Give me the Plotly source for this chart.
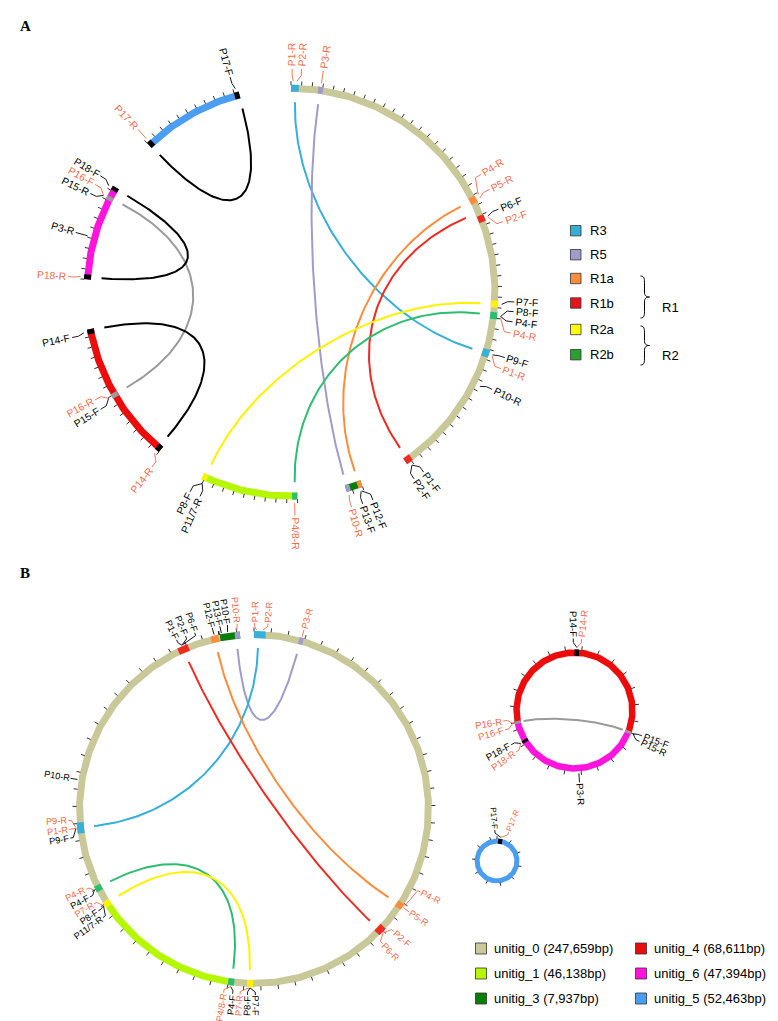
import numpy as np
import plotly.graph_objects as go

W, H = 778, 1021
FONT = "Liberation Sans"
O = "#f26b4c"   # reverse-primer label colour
K = "#000000"

# ---------------- colours ----------------
contig_colors = {"unitig_0": "#c8c899", "unitig_1": "#b5f700", "unitig_3": "#0a7e0a",
                 "unitig_4": "#ec0c0c", "unitig_6": "#ff14de", "unitig_5": "#4a9ef2"}
feat_colors = {"R3": "#36afd9", "R5": "#a09cca", "R1a": "#fd8c3c", "R1b": "#ef2b22",
               "R2a": "#fff200", "R2b": "#2dbd70", "grey": "#9a9a9a", "black": "#000000"}
legend_colors = {"R3": "#35afd8", "R5": "#9f9bcb", "R1a": "#fd8d3c", "R1b": "#e8141c",
                 "R2a": "#ffff00", "R2b": "#2ca02c"}

# ---------------- contigs ----------------
contig_names = ["unitig_0", "unitig_1", "unitig_3", "unitig_4", "unitig_6", "unitig_5"]
contig_len_bp = [247659, 46138, 7937, 68611, 47394, 52463]
contig_len = dict(zip(contig_names, contig_len_bp))
tick_step_bp = 5000

# ---------------- panel A (degrees clockwise from top) ----------------
A_arcs = [("unitig_0", 0.0, 146.0), ("unitig_3", 159.8, 164.4), ("unitig_1", 178.2, 205.6),
          ("unitig_4", 219.6, 259.6), ("unitig_6", 273.6, 300.9), ("unitig_5", 316.0, 345.4)]
A_feats = [(0.0, 2.2, "R3"), (7.6, 9.0, "R5"), (62.2, 64.2, "R1a"), (67.9, 69.9, "R1b"),
           (92.3, 94.3, "R2a"), (95.6, 97.6, "R2b"), (106.2, 108.4, "R3"), (144.0, 146.0, "R1b"),
           (159.8, 161.0, "R1a"), (163.2, 164.4, "R5"),
           (178.2, 179.7, "R2b"), (204.2, 205.6, "R2a"),
           (219.6, 221.0, "black"), (239.1, 240.5, "grey"), (258.2, 259.6, "black"),
           (273.6, 275.0, "black"), (296.7, 297.9, "grey"), (299.7, 300.9, "black"),
           (316.0, 317.4, "black"), (344.0, 345.4, "black")]
A_links = [(1.2, 107.3, "R3"), (8.2, 164.0, "R5"), (63.2, 160.4, "R1a"), (67.0, 145.0, "R1b"),
           (93.3, 204.8, "R2a"), (96.4, 178.9, "R2b"), (297.5, 239.9, "grey"),
           (345.2, 316.3, "black"), (300.5, 274.2, "black"), (259.3, 220.5, "black")]
A_labels = [
    (0.6, 0.3, "P1-R", O), (1.6, 2.7, "P2-R", O), (8.3, 8.3, "P3-R", O),
    (62.5, 58.2, "P4-R", O), (63.5, 62.6, "P5-R", O), (68.9, 68.2, "P6-F", K), (69.2, 71.6, "P2-F", O),
    (93.3, 92.5, "P7-F", K), (96.6, 95.0, "P8-F", K), (96.6, 97.6, "P4-F", K), (96.9, 100.5, "P4-R", O),
    (107.3, 107.0, "P9-F", K), (107.6, 110.0, "P1-R", O), (116.5, 115.8, "P10-R", K),
    (145.0, 143.6, "P1-F", K), (145.0, 146.6, "P2-F", K),
    (160.4, 158.5, "P12-F", K), (160.6, 161.3, "P13-F", K), (164.0, 164.3, "P10-R", O),
    (179.0, 179.0, "P4/8-R", O),
    (204.9, 206.8, "P8-F", K), (204.9, 204.0, "P11/7-R", K),
    (220.3, 218.5, "P14-R", O), (239.8, 241.2, "P16-R", O), (239.8, 238.4, "P15-F", K),
    (258.9, 258.3, "P14-F", K), (274.3, 274.0, "P18-R", O), (285.5, 285.5, "P3-R", K),
    (297.3, 296.2, "P15-R", K), (297.3, 298.8, "P16-F", O), (300.3, 301.4, "P18-F", K),
    (316.7, 316.8, "P17-R", O), (344.7, 344.2, "P17-F", K)]

# ---------------- panel B ----------------
B_arcs = [("unitig_0", 0.0, 188.5), ("unitig_1", 188.5, 237.5),
          ("unitig_0", 237.5, 348.8), ("unitig_3", 348.8, 355.4)]
B_bp_per_deg = 900
B_feats = [(0.0, 3.8, "R3"), (14.9, 16.3, "R5"), (122.3, 124.5, "R1a"), (132.2, 135.2, "R1b"),
           (180.3, 182.3, "R2a"), (186.5, 188.5, "R2b"), (236.2, 238.3, "R2a"), (242.0, 244.1, "R2b"),
           (262.0, 265.6, "R3"), (334.4, 338.0, "R1b"), (345.8, 348.4, "R1a"), (353.7, 355.4, "R5")]
B_links = [(15.5, 354.1, "R5"), (1.4, 263.9, "R3"), (347.0, 123.3, "R1a"), (336.1, 134.0, "R1b"),
           (243.3, 187.4, "R2b"), (237.3, 181.5, "R2a")]
B_labels = [
    (0.8, 0.2, "P1-R", O), (2.8, 4.3, "P2-R", O), (15.6, 15.6, "P3-R", O),
    (123.0, 116.5, "P4-R", O), (123.4, 123.6, "P5-R", O), (133.7, 131.2, "P2-F", O), (133.9, 136.3, "P6-R", O),
    (181.3, 179.6, "P7-F", K), (181.3, 182.0, "P8-F", K), (181.6, 184.3, "P7-R", O),
    (187.5, 186.6, "P4-F", K), (187.5, 189.4, "P4/8-R", O),
    (237.2, 234.3, "P11/7-R", K), (237.2, 236.8, "P8-F", K), (237.4, 239.3, "P7-R", O),
    (243.1, 241.8, "P4-F", K), (243.1, 244.4, "P4-R", O),
    (263.8, 261.0, "P9-F", K), (263.8, 263.7, "P1-R", O), (264.0, 266.4, "P9-R", O),
    (279.5, 279.5, "P10-R", K),
    (336.2, 335.4, "P1-F", K), (336.2, 338.4, "P2-F", K), (336.4, 341.4, "P6-F", K),
    (347.1, 347.0, "P12-F", K), (349.5, 349.4, "P13-F", K), (351.5, 351.8, "P10-F", K),
    (354.5, 354.8, "P10-R", O)]

# small circles of panel B
C_arcs = [("unitig_4", -101.7, 111.7), ("unitig_6", 111.7, 258.3)]
C_feats = [(0.0, 4.5, "black"), (110.4, 113.0, "grey"), (237.0, 240.0, "black"), (257.0, 259.6, "grey")]
C_links = [(258.3, 111.7, "grey")]
C_labels = [(2.2, 359.0, "P14-F", K), (2.2, 5.8, "P14-R", O),
            (111.7, 110.6, "P15-F", K), (111.7, 115.4, "P15-R", K),
            (176.0, 176.0, "P3-R", K),
            (238.5, 234.6, "P18-R", O), (238.5, 241.6, "P18-F", K),
            (258.3, 254.4, "P16-F", O), (258.3, 261.6, "P16-R", O)]
D_arcs = [("unitig_5", 0.0, 360.0)]
D_feats = [(3.0, 15.0, "black")]
D_labels = [(9.0, 356.0, "P17-F", K), (9.0, 22.0, "P17-R", O)]

legendA = ["R3", "R5", "R1a", "R1b", "R2a", "R2b"]
legendB = [("unitig_0", "unitig_0 (247,659bp)"), ("unitig_4", "unitig_4 (68,611bp)"),
           ("unitig_1", "unitig_1 (46,138bp)"), ("unitig_6", "unitig_6 (47,394bp)"),
           ("unitig_3", "unitig_3 (7,937bp)"), ("unitig_5", "unitig_5 (52,463bp)")]

# ---------------- geometry helpers ----------------
CHAR_W = {"P": 667, "R": 722, "F": 611, "-": 333, "/": 278}


def text_w(s, size):
    return sum(CHAR_W.get(ch, 556) for ch in s) * size / 1000.0


def pol(c, r, th):
    t = np.radians(th)
    return c[0] + r * np.sin(t), c[1] - r * np.cos(t)


traces = []
annotations = []
shapes = []


def add_line(xs, ys, color, width):
    traces.append(go.Scatter(x=list(xs), y=list(ys), mode="lines",
                             line=dict(color=color, width=width),
                             hoverinfo="skip", showlegend=False))


def draw_ring(c, r, width, arcs, feats, bp_per_deg=None, tick_len=3.5):
    tx, ty = [], []
    for name, a0, a1 in arcs:
        th = np.linspace(a0, a1, int(abs(a1 - a0) * 2) + 8)
        x, y = pol(c, r, th)
        add_line(x, y, contig_colors[name], width)
        scale = bp_per_deg if bp_per_deg else contig_len[name] / (a1 - a0)
        step = tick_step_bp / scale
        a = a0
        while a <= a1 + 1e-6:
            x0, y0 = pol(c, r + width / 2 - 0.5, a)
            x1, y1 = pol(c, r + width / 2 + tick_len, a)
            tx += [x0, x1, None]
            ty += [y0, y1, None]
            a += step
    add_line(tx, ty, "black", 0.8)
    for a0, a1, key in feats:
        th = np.linspace(a0, a1, 8)
        x, y = pol(c, r, th)
        add_line(x, y, feat_colors[key], width)


def draw_links(c, rc, links, k=0.45, width=2.0):
    t = np.linspace(0, 1, 90)[:, None]
    for a0, a1, key in links:
        p0 = np.array(pol(c, rc, a0)); p3 = np.array(pol(c, rc, a1))
        p1 = np.array(pol(c, rc * k, a0)); p2 = np.array(pol(c, rc * k, a1))
        pts = (1 - t) ** 3 * p0 + 3 * (1 - t) ** 2 * t * p1 + 3 * (1 - t) * t ** 2 * p2 + t ** 3 * p3
        add_line(pts[:, 0], pts[:, 1], feat_colors[key], width)


def draw_labels(c, r, labels, size, off):
    o1, o2, o3, ot = off
    for af, al, txt, col in labels:
        pts = [pol(c, r + o1, af), pol(c, r + o2, al), pol(c, r + o3, al)]
        add_line([p[0] for p in pts], [p[1] for p in pts], col, 0.9)
        w = text_w(txt, size)
        cx, cy = pol(c, r + ot + w / 2, al)
        t = al % 360
        ang = (t - 90) if t <= 180.5 else (t - 270)
        annotations.append(dict(x=cx, y=cy, xref="x", yref="y", text=txt, showarrow=False,
                                textangle=ang, xanchor="center", yanchor="middle",
                                font=dict(family=FONT, size=size, color=col)))


# ---------------- panel A ----------------
CA, RA = (283.0, 284.2), 204.0
draw_ring(CA, RA, 7.0, A_arcs, A_feats)
draw_links(CA, 190.0, A_links)
draw_labels(CA, RA, A_labels, 10.3, (7, 13, 19.5, 21.5))

# ---------------- panel B ----------------
CB, RB = (246.0, 801.0), 174.5
draw_ring(CB, RB, 7.0, B_arcs, B_feats, bp_per_deg=B_bp_per_deg)
draw_links(CB, 161.0, B_links, k=0.42)
draw_labels(CB, RB, B_labels, 9.2, (4.5, 8.5, 11.5, 12.5))

CC, RC = (566.5, 702.5), 58.0
draw_ring(CC, RC, 6.5, C_arcs, C_feats, bp_per_deg=116005 / 360.0)
draw_links(CC, 52.0, C_links, k=0.5)
draw_labels(CC, RC, C_labels, 9.6, (5, 10, 14, 15.5))

CD, RD = (489.0, 853.0), 20.0
draw_ring(CD, RD, 5.0, D_arcs, D_feats, bp_per_deg=52463 / 360.0, tick_len=2.5)
draw_labels(CD, RD, D_labels, 8.0, (4, 8, 11, 12))

# ---------------- legend A ----------------
legA_y = [222.7, 246.7, 270.5, 295.0, 321.5, 346.7]
for key, y in zip(legendA, legA_y):
    shapes.append(dict(type="rect", xref="x", yref="y", x0=562.5, x1=573, y0=y - 5.2, y1=y + 5.2,
                       fillcolor=legend_colors[key], line=dict(color="#333333", width=0.8)))
    annotations.append(dict(x=580, y=y, xref="x", yref="y", text=key, showarrow=False,
                            xanchor="left", yanchor="middle", font=dict(family=FONT, size=13, color="black")))


def brace(y0, y1, x=632.5, dx=9):
    ym = (y0 + y1) / 2
    xm = x + 4
    return (f"M {x},{y0} C {xm},{y0} {xm},{y0+3} {xm},{y0+8} L {xm},{ym-5} "
            f"C {xm},{ym-1} {xm+2},{ym} {x+dx},{ym} C {xm+2},{ym} {xm},{ym+1} {xm},{ym+5} "
            f"L {xm},{y1-8} C {xm},{y1-3} {xm},{y1} {x},{y1}")


shapes.append(dict(type="path", xref="x", yref="y", path=brace(268, 310), line=dict(color="black", width=1)))
shapes.append(dict(type="path", xref="x", yref="y", path=brace(318, 357), line=dict(color="black", width=1)))
annotations.append(dict(x=652, y=299, xref="x", yref="y", text="R1", showarrow=False, xanchor="left",
                        yanchor="middle", font=dict(family=FONT, size=13, color="black")))
annotations.append(dict(x=652, y=347, xref="x", yref="y", text="R2", showarrow=False, xanchor="left",
                        yanchor="middle", font=dict(family=FONT, size=13, color="black")))

# ---------------- legend B ----------------
legB_x = [467.5, 627.5]
legB_y = [940.5, 965.5, 990.5]
for i, (key, txt) in enumerate(legendB):
    x = legB_x[i % 2]; y = legB_y[i // 2]
    shapes.append(dict(type="rect", xref="x", yref="y", x0=x, x1=x + 11, y0=y - 5.5, y1=y + 5.5,
                       fillcolor=contig_colors[key], line=dict(color="#333333", width=0.8)))
    annotations.append(dict(x=x + 16, y=y, xref="x", yref="y", text=txt, showarrow=False,
                            xanchor="left", yanchor="middle", font=dict(family=FONT, size=13, color="black")))

# panel letters
for letter, y in (("A", 18), ("B", 565)):
    annotations.append(dict(x=10, y=y, xref="x", yref="y", text=f"<b>{letter}</b>", showarrow=False,
                            xanchor="left", yanchor="middle",
                            font=dict(family="Liberation Serif", size=15, color="black")))

fig = go.Figure(traces)
fig.update_layout(width=W, height=H, margin=dict(l=0, r=0, t=0, b=0),
                  paper_bgcolor="white", plot_bgcolor="white",
                  xaxis=dict(range=[0, W], visible=False, fixedrange=True),
                  yaxis=dict(range=[H, 0], visible=False, fixedrange=True),
                  annotations=annotations, shapes=shapes, showlegend=False)
fig.write_html("out.html")
